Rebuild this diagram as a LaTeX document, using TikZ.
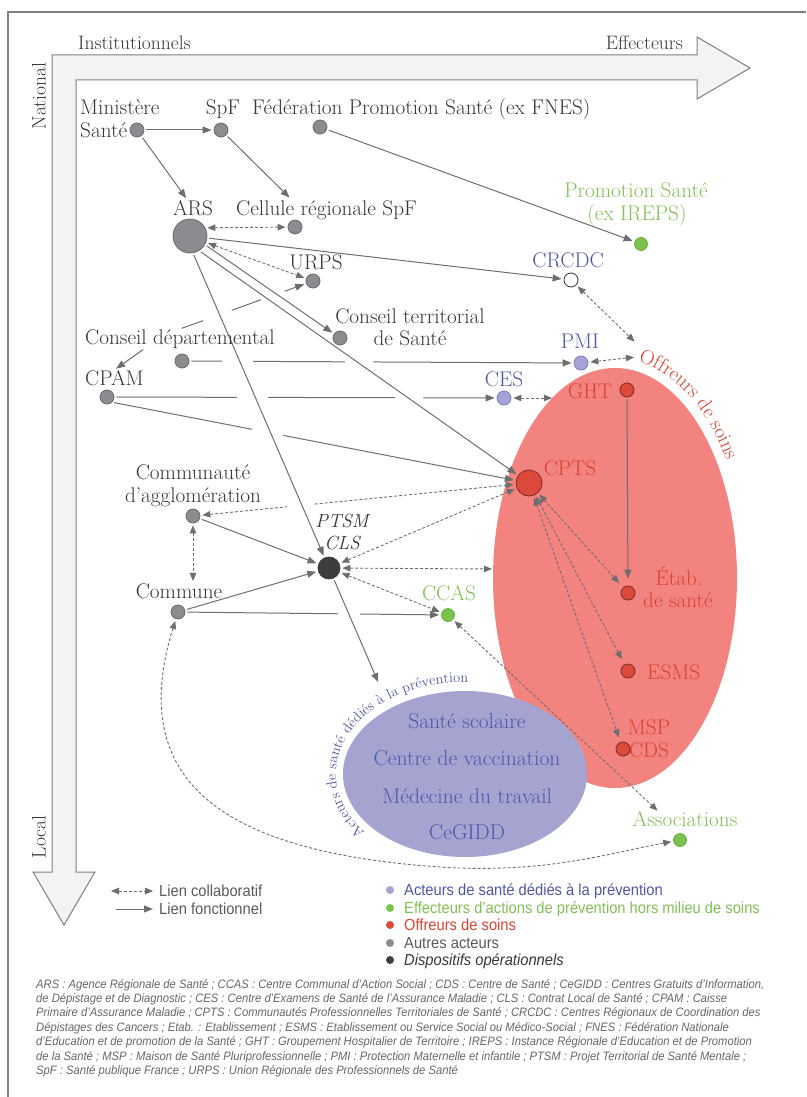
\documentclass[tikz,border=0pt]{standalone}
\usepackage{fontspec}
\usetikzlibrary{arrows.meta,calc,decorations.text}
\newfontfamily\legfont[FakeStretch=0.92]{Liberation Sans}
\pgfdeclarelayer{ell}
\pgfdeclarelayer{back}
\pgfsetlayers{ell,back,main}
\definecolor{tgrey}{HTML}{363636}
\definecolor{lgrey}{HTML}{6E6E6E}
\definecolor{ngrey}{HTML}{8B8B90}
\definecolor{ngreyd}{HTML}{6A6A6E}
\definecolor{tblue}{HTML}{4F56A8}
\definecolor{nblue}{HTML}{A3A3D6}
\definecolor{nblued}{HTML}{7D7DC0}
\definecolor{tgreen}{HTML}{80C055}
\definecolor{ngreen}{HTML}{7BC24F}
\definecolor{ngreend}{HTML}{69AE40}
\definecolor{tred}{HTML}{DA4232}
\definecolor{nred}{HTML}{DD4A3C}
\definecolor{nredd}{HTML}{7A2A22}
\definecolor{ellred}{HTML}{F2837E}
\definecolor{ellblue}{HTML}{A5A4D1}
\definecolor{ndark}{HTML}{3D3D3F}
\definecolor{arrfill}{HTML}{F2F3F5}
\definecolor{framec}{HTML}{7F7F7F}
\definecolor{legc}{HTML}{5A5A5A}
\definecolor{notec}{HTML}{666666}
\tikzset{
  lab/.style={font=\fontsize{21.2}{25}\selectfont, text=tgrey, inner sep=0pt, anchor=base},
  labw/.style={lab, anchor=base west},
  big/.style={font=\fontsize{19.5}{23}\selectfont, text=tgrey, inner sep=0pt},
  itl/.style={lab, font=\fontsize{19}{23}\selectfont\itshape},
  dot/.style={circle, inner sep=0pt, minimum size=14pt, line width=0.8pt},
  gdot/.style={dot, fill=ngrey, draw=ngreyd},
  bdot/.style={dot, fill=nblue, draw=nblued},
  rdot/.style={dot, fill=nred, draw=nredd},
  vdot/.style={dot, minimum size=13pt, fill=ngreen, draw=ngreend},
  fn/.style={draw=lgrey, line width=1pt, -{Triangle[length=9pt,width=7pt]}, shorten >=2pt, shorten <=2pt},
  co/.style={draw=lgrey, line width=0.9pt, dash pattern=on 3pt off 2pt, {Triangle[length=8pt,width=6.5pt]}-{Triangle[length=8pt,width=6.5pt]}, shorten >=2pt, shorten <=2pt},
  leg/.style={font=\legfont\fontsize{16}{19}\selectfont, inner sep=0pt, anchor=base west},
  ldot/.style={circle, inner sep=0pt, minimum size=8pt},
}
\begin{document}
\begin{tikzpicture}[x=1pt,y=-1pt]
\useasboundingbox (0,0) rectangle (806,1097);
\begin{pgfonlayer}{ell}
\draw[framec, line width=1.2pt] (8,1097) -- (8,12) -- (806,12);
\filldraw[fill=arrfill, draw=framec, line width=1pt] (697,55) -- (52,55) -- (52,872) -- (33,872) -- (64,925) -- (95,872) -- (76,872) -- (76,80) -- (697,80) -- (697,99) -- (750,68) -- (697,37) -- cycle;
\fill[ellred] (615,578) ellipse [x radius=122, y radius=210];
\fill[ellblue] (465,774) ellipse [x radius=122, y radius=83];
\end{pgfonlayer}

% actor dots
\node[gdot] (ms) at (137,130) {};
\node[gdot] (spf) at (221,130) {};
\node[gdot] (fed) at (320,127) {};
\node[gdot, minimum size=34pt] (ars) at (190,236) {};
\node[gdot] (cell) at (295,227) {};
\node[gdot] (urps) at (313,281) {};
\node[gdot] (ct) at (340,338) {};
\node[gdot] (cd) at (182,361) {};
\node[gdot] (cpam) at (107,397) {};
\node[dot, fill=white, draw=black!80] (crcdc) at (571,280) {};
\node[vdot] (ips) at (641,244) {};
\node[bdot] (pmi) at (581,363) {};
\node[bdot] (ces) at (504,398) {};
\node[rdot] (ght) at (627,390) {};
\node[rdot, minimum size=26pt] (cpts) at (529,483) {};
\node[rdot] (etab) at (628,593) {};
\node[rdot] (esms) at (628,671) {};
\node[rdot] (msp) at (623,749) {};
\node[gdot] (comag) at (193,516) {};
\node[dot, minimum size=22pt, fill=ndark, draw=ndark] (ptsm) at (329,568) {};
\node[gdot] (comm) at (178,612) {};
\node[vdot] (ccas) at (448,615) {};
\node[vdot] (asso) at (680,840) {};

% labels
\node[big, anchor=base west] (inst) at (78,50) {Institutionnels};
\node[big, anchor=base east] (eff) at (683,50) {Effecteurs};
\node[big, rotate=90] (nat) at (39,96) {National};
\node[big, rotate=90] (loc) at (39,837) {Local};
\node[labw] (msL1) at (80,115) {Ministère};
\node[labw] (msL2) at (80,137) {Santé};
\node[lab] (spfL) at (223,115) {SpF};
\node[labw] (fedL) at (252,115) {Fédération Promotion Santé (ex FNES)};
\node[lab] (arsL) at (193,215) {ARS};
\node[labw] (cellL) at (236,215) {Cellule régionale SpF};
\node[lab] (urpsL) at (316,269) {URPS};
\node[lab] (ctL1) at (410,323) {Conseil territorial};
\node[lab] (ctL2) at (410,345) {de Santé};
\node[labw] (cdL) at (85,344) {Conseil départemental};
\node[labw] (cpamL) at (85,385) {CPAM};
\node[lab, text=tblue] (crcdcL) at (568,267) {CRCDC};
\node[lab, text=tgreen] (ipsL1) at (636,197) {Promotion Santé};
\node[lab, text=tgreen] (ipsL2) at (637,220) {(ex IREPS)};
\node[lab, text=tblue] (pmiL) at (580,348) {PMI};
\node[lab, text=tblue] (cesL) at (504,386) {CES};
\node[lab, text=tred] (ghtL) at (590,398) {GHT};
\node[lab, text=tred] (cptsL) at (570,475) {CPTS};
\node[lab, text=tred] (etabL1) at (679,585) {Étab.};
\node[lab, text=tred] (etabL2) at (678,607) {de santé};
\node[labw, text=tred] (esmsL) at (647,679) {ESMS};
\node[lab, text=tred] (mspL1) at (649,734) {MSP};
\node[lab, text=tred] (mspL2) at (649,757) {CDS};
\node[lab] (comagL1) at (193,479) {Communauté};
\node[lab] (comagL2) at (193,502) {d’agglomération};
\node[itl] (ptsmL1) at (342,527) {PTSM};
\node[itl] (ptsmL2) at (342,549) {CLS};
\node[lab] (commL) at (179,598) {Commune};
\node[lab, text=tgreen] (ccasL) at (449,600) {CCAS};
\node[lab, text=tgreen] (assoL) at (685,826) {Associations};
\node[lab, text=tblue, font=\fontsize{21.5}{25}\selectfont] (pv1) at (467,728) {Santé scolaire};
\node[lab, text=tblue, font=\fontsize{21.5}{25}\selectfont] (pv2) at (467,765) {Centre de vaccination};
\node[lab, text=tblue, font=\fontsize{21.5}{25}\selectfont] (pv3) at (467,803) {Médecine du travail};
\node[lab, text=tblue, font=\fontsize{21.5}{25}\selectfont] (pv4) at (467,839) {CeGIDD};

% curved labels
\path[decorate, decoration={text along path, text color=tred, text={|\fontsize{20.5}{24}\selectfont|Offreurs de soins}}]
  ($(615,578)+(-80:132 and 220)$) arc[start angle=-80, end angle=-10, x radius=132, y radius=220];
\path[decorate, decoration={text along path, text color=tblue, text={|\fontsize{14.5}{17}\selectfont|Acteurs de santé dédiés à la prévention}}]
  ($(465,774)+(141:129 and 92)$) arc[start angle=141, end angle=290, x radius=129, y radius=92];

% free connector ends
\coordinate (cellT) at (291,199);
\coordinate (actT) at (379,684);
\coordinate (of1) at (636,343);
\coordinate (of2) at (636,357);
\coordinate (rw1) at (554,398);
\coordinate (rw2) at (494,569);
\coordinate (assoT) at (659,812);

\begin{pgfonlayer}{back}
% lines that are interrupted at crossings
\draw[fn] (cdL.north) -- (urps);
\draw[fn] (cd) -- (pmi);
\draw[fn] (cpam) -- (ces);
\draw[fn] (cpam.south east) -- (cpts);
\draw[co] (comag) -- (cpts);
\draw[fn] (comm) -- (ccas);
\begin{scope}[white, line width=4pt]
\draw ($(cdL.north)!0.176!(urps)$) -- ($(cdL.north)!0.389!(urps)$);
\draw ($(cdL.north)!0.611!(urps)$) -- ($(cdL.north)!0.786!(urps)$);
\draw ($(cd)!0.100!(pmi)$) -- ($(cd)!0.178!(pmi)$);
\draw ($(cd)!0.409!(pmi)$) -- ($(cd)!0.479!(pmi)$);
\draw ($(cpam)!0.327!(ces)$) -- ($(cpam)!0.406!(ces)$);
\draw ($(cpam)!0.725!(ces)$) -- ($(cpam)!0.796!(ces)$);
\draw ($(cpam.south east)!0.336!(cpts)$) -- ($(cpam.south east)!0.410!(cpts)$);
\draw ($(comag)!0.280!(cpts)$) -- ($(comag)!0.357!(cpts)$);
\draw ($(comm)!0.593!(ccas)$) -- ($(comm)!0.674!(ccas)$);
\end{scope}
% functional links
\draw[fn] (ms) -- (spf);
\draw[fn] (ms) -- (arsL);
\draw[fn] (spf) -- (cellT);
\draw[fn] (fed) -- (ips);
\draw[fn] (ars) -- (crcdc);
\draw[fn] (ars.-30) -- (ct);
\draw[fn] (ars.-58) -- (cpts);
\draw[fn] (ars.-80) -- (ptsm);
\draw[fn] ([xshift=-35pt]cdL.south) -- (cpamL.north);
\draw[fn] (comag) -- (ptsm);
\draw[fn] (comm) -- (ptsm);
\draw[fn] (ptsm) -- (actT);
\draw[fn, shorten >=7pt] (ght) -- (etab);
% collaborative links
\draw[co] (ars.28) -- (cell);
\draw[co] (ars.-22) -- (urps);
\draw[co] (crcdc) -- (of1);
\draw[co] (pmi) -- (of2);
\draw[co] (ces) -- (rw1);
\draw[co] (ptsm) -- (cpts);
\draw[co] (ptsm) -- (rw2);
\draw[co] (ptsm) -- (ccas);
\draw[co] (comag) -- (comag |- commL.north);
\draw[co, shorten >=6pt] (cpts) -- (etab);
\draw[co, shorten >=6pt] (cpts) -- (esms);
\draw[co, shorten >=5pt] (cpts) -- (msp);
\draw[co] (ccas) -- (assoT);
\draw[co] (comm) .. controls (126,780) and (220,852) .. (440,867) .. controls (545,874) and (610,853) .. (asso);
\end{pgfonlayer}

% legend
\coordinate (lc1) at (111,891);
\coordinate (lc2) at (153,891);
\coordinate (lf1) at (116,909);
\coordinate (lf2) at (153,909);
\draw[co, shorten <=0pt, shorten >=0pt] (lc1) -- (lc2);
\draw[fn, shorten <=0pt, shorten >=0pt] (lf1) -- (lf2);
\node[leg, text=legc] (lcL) at (159,896) {Lien collaboratif};
\node[leg, text=legc] (lfL) at (159,914) {Lien fonctionnel};
\node[ldot, fill=nblue] (d1) at (390,890) {};
\node[ldot, fill=ngreen] (d2) at (390,908) {};
\node[ldot, fill=nred] (d3) at (390,925) {};
\node[ldot, fill=ngrey] (d4) at (390,943) {};
\node[ldot, fill=ndark] (d5) at (390,960) {};
\node[leg, text=tblue] (t1) at (404,895) {Acteurs de santé dédiés à la prévention};
\node[leg, text=tgreen] (t2) at (404,913) {Effecteurs d’actions de prévention hors milieu de soins};
\node[leg, text=tred] (t3) at (404,930) {Offreurs de soins};
\node[leg, text=legc] (t4) at (404,948) {Autres acteurs};
\node[leg, text=tgrey, font=\legfont\itshape\fontsize{16}{19}\selectfont] (t5) at (404,965) {Dispositifs opérationnels};

% notes
\node[anchor=north west, inner sep=0pt, align=left, text=notec, font=\legfont\itshape\fontsize{12.2}{14.4}\selectfont] (notes) at (36,979) {ARS : Agence Régionale de Santé ; CCAS : Centre Communal d’Action Social ; CDS : Centre de Santé ; CeGIDD : Centres Gratuits d’Information,\\
de Dépistage et de Diagnostic ; CES : Centre d’Examens de Santé de l’Assurance Maladie ; CLS : Contrat Local de Santé ; CPAM : Caisse\\
Primaire d’Assurance Maladie ; CPTS : Communautés Professionnelles Territoriales de Santé ; CRCDC : Centres Régionaux de Coordination des\\
Dépistages des Cancers ; Etab. : Etablissement ; ESMS : Etablissement ou Service Social ou Médico-Social ; FNES : Fédération Nationale\\
d’Education et de promotion de la Santé ; GHT : Groupement Hospitalier de Territoire ; IREPS : Instance Régionale d’Education et de Promotion\\
de la Santé ; MSP : Maison de Santé Pluriprofessionnelle ; PMI : Protection Maternelle et infantile ; PTSM : Projet Territorial de Santé Mentale ;\\
SpF : Santé publique France ; URPS : Union Régionale des Professionnels de Santé};
\end{tikzpicture}
\end{document}
